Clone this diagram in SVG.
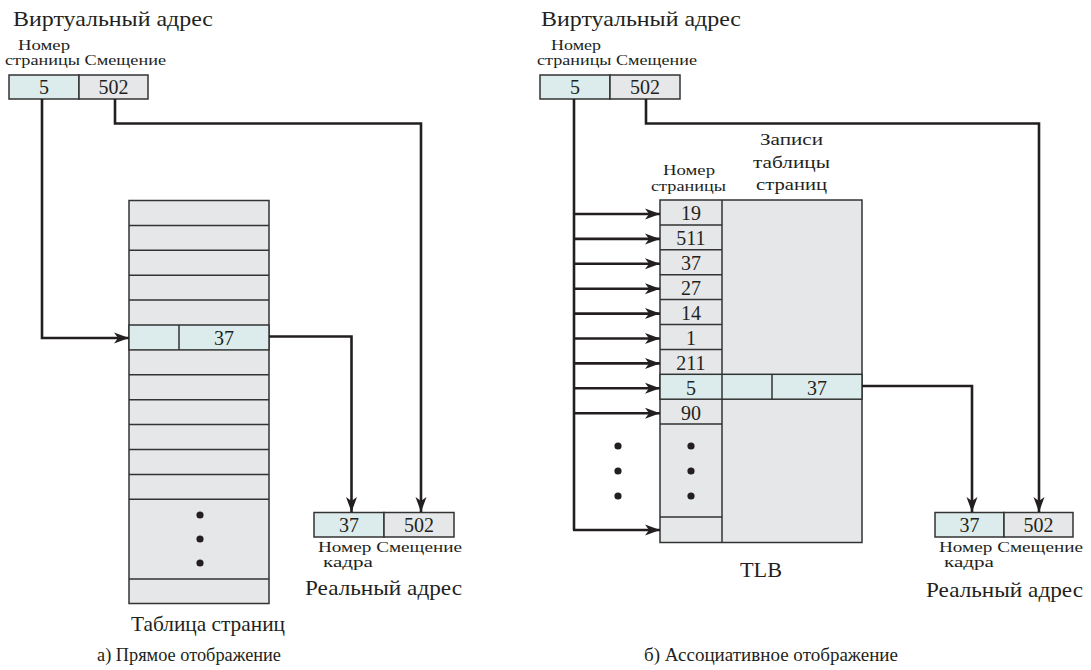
<svg xmlns="http://www.w3.org/2000/svg" width="1091" height="670" viewBox="0 0 1091 670" font-family="'Liberation Serif', 'DejaVu Serif', serif">
<style>
text{font-family:"Liberation Serif","DejaVu Serif",serif;fill:#231f20}
.t{font-size:21px}
.cap{font-size:18px}
.s{font-size:15.5px}
.n{font-size:20px;text-anchor:middle}
.c{text-anchor:middle}
.g{fill:#e6e7e8;stroke:#333;stroke-width:1.5}
.h{fill:#dcecec;stroke:#333;stroke-width:1.5}
.ln{fill:none;stroke:#333;stroke-width:1.5}
.con{fill:none;stroke:#231f20;stroke-width:2.6}
.arr{marker-end:url(#ah)}
</style>
<defs>
<marker id="ah" markerUnits="userSpaceOnUse" markerWidth="18" markerHeight="14" viewBox="-16 -7 18 14" refX="0" refY="0" orient="auto">
<path d="M0,0 L-15,-5.5 L-11,0 L-15,5.5 Z" fill="#231f20"/>
</marker>
</defs>

<!-- LEFT PANEL -->
<g id="va-left">
<text class="t" x="13" y="26" textLength="200" lengthAdjust="spacingAndGlyphs">Виртуальный адрес</text>
<text class="s" x="18" y="50" textLength="52" lengthAdjust="spacingAndGlyphs">Номер</text>
<text class="s" x="5" y="65" textLength="161" lengthAdjust="spacingAndGlyphs">страницы Смещение</text>
<rect class="h" x="9" y="75" width="70" height="24"/>
<rect class="g" x="79" y="75" width="69" height="24"/>
<text class="n" x="44" y="94">5</text>
<text class="n" x="113.5" y="94">502</text>
</g>

<g id="page-table">
<rect class="g" x="129" y="200.5" width="140" height="403"/>
<path class="ln" d="M129,225.4H269M129,250.3H269M129,275.2H269M129,300.1H269M129,374.8H269M129,399.7H269M129,424.6H269M129,449.5H269M129,474.4H269M129,499.3H269M129,579H269"/>
<rect class="h" x="129" y="325" width="140" height="24.9"/>
<line class="ln" x1="179" y1="325" x2="179" y2="349.9"/>
<text class="n" x="224" y="345">37</text>
<circle cx="200" cy="515" r="3.6" fill="#231f20"/>
<circle cx="200" cy="539" r="3.6" fill="#231f20"/>
<circle cx="200" cy="563" r="3.6" fill="#231f20"/>
<text class="t" x="131" y="631" textLength="154" lengthAdjust="spacingAndGlyphs">Таблица страниц</text>
</g>

<g id="ra-left">
<rect class="h" x="314" y="512.5" width="70" height="24.5"/>
<rect class="g" x="384" y="512.5" width="70" height="24.5"/>
<text class="n" x="349" y="532">37</text>
<text class="n" x="419" y="532">502</text>
<text class="s" x="318" y="552" textLength="144" lengthAdjust="spacingAndGlyphs" style="font-size:15px">Номер Смещение</text>
<text class="s" x="323" y="567" textLength="50" lengthAdjust="spacingAndGlyphs" style="font-size:15px">кадра</text>
<text class="t" x="305" y="595" textLength="157" lengthAdjust="spacingAndGlyphs">Реальный адрес</text>
</g>

<text id="cap-a" class="cap" x="97" y="661" textLength="184" lengthAdjust="spacingAndGlyphs">а) Прямое отображение</text>

<!-- RIGHT PANEL -->
<g id="va-right">
<text class="t" x="541" y="26" textLength="200" lengthAdjust="spacingAndGlyphs">Виртуальный адрес</text>
<text class="s" x="551" y="50" textLength="50" lengthAdjust="spacingAndGlyphs">Номер</text>
<text class="s" x="537" y="65" textLength="160" lengthAdjust="spacingAndGlyphs">страницы Смещение</text>
<rect class="h" x="540" y="75" width="70" height="24"/>
<rect class="g" x="610" y="75" width="70" height="24"/>
<text class="n" x="575" y="94">5</text>
<text class="n" x="645" y="94">502</text>
</g>

<g id="tlb">
<text class="s" x="663" y="175" textLength="52" lengthAdjust="spacingAndGlyphs">Номер</text>
<text class="s" x="651" y="191" textLength="75" lengthAdjust="spacingAndGlyphs">страницы</text>
<text class="s" x="760" y="145" textLength="63" lengthAdjust="spacingAndGlyphs" style="font-size:17px">Записи</text>
<text class="s" x="753" y="168" textLength="77" lengthAdjust="spacingAndGlyphs" style="font-size:17px">таблицы</text>
<text class="s" x="756" y="190" textLength="71" lengthAdjust="spacingAndGlyphs" style="font-size:17px">страниц</text>
<rect class="g" x="660" y="200" width="202" height="342.5"/>
<line class="ln" x1="722" y1="200" x2="722" y2="542.5"/>
<path class="ln" d="M660,224.9H722M660,249.8H722M660,274.7H722M660,299.6H722M660,324.5H722M660,349.4H722M660,424.1H722M660,517H722"/>
<rect class="h" x="660" y="374.3" width="202" height="24.9"/>
<line class="ln" x1="722" y1="374.3" x2="722" y2="399.2"/>
<line class="ln" x1="772" y1="374.3" x2="772" y2="399.2"/>
<text class="n" x="691" y="220">19</text>
<text class="n" x="691" y="245">511</text>
<text class="n" x="691" y="270">37</text>
<text class="n" x="691" y="295">27</text>
<text class="n" x="691" y="320">14</text>
<text class="n" x="691" y="344.5">1</text>
<text class="n" x="691" y="369.5">211</text>
<text class="n" x="691" y="394.5">5</text>
<text class="n" x="817" y="394.5">37</text>
<text class="n" x="691" y="419.5">90</text>
<circle cx="691" cy="446" r="3.6" fill="#231f20"/>
<circle cx="691" cy="471" r="3.6" fill="#231f20"/>
<circle cx="691" cy="496" r="3.6" fill="#231f20"/>
<text class="t" x="740" y="577" textLength="42" lengthAdjust="spacingAndGlyphs">TLB</text>
</g>
<g id="dots-right">
<circle cx="618" cy="446" r="3.6" fill="#231f20"/>
<circle cx="618" cy="471" r="3.6" fill="#231f20"/>
<circle cx="618" cy="496" r="3.6" fill="#231f20"/>
</g>

<g id="ra-right">
<rect class="h" x="935" y="512.5" width="69" height="24.5"/>
<rect class="g" x="1004" y="512.5" width="69" height="24.5"/>
<text class="n" x="969.5" y="532">37</text>
<text class="n" x="1038.5" y="532">502</text>
<text class="s" x="939" y="552" textLength="144" lengthAdjust="spacingAndGlyphs" style="font-size:15px">Номер Смещение</text>
<text class="s" x="944" y="567" textLength="50" lengthAdjust="spacingAndGlyphs" style="font-size:15px">кадра</text>
<text class="t" x="926" y="597" textLength="157" lengthAdjust="spacingAndGlyphs">Реальный адрес</text>
</g>

<text id="cap-b" class="cap" x="644" y="661" textLength="254" lengthAdjust="spacingAndGlyphs">б) Ассоциативное отображение</text>

<g id="connectors">
<path class="con arr" d="M42,99V338H129"/>
<path class="con arr" d="M115,99V123.5H421V512"/>
<path class="con arr" d="M269,336.5H351.5V512"/>
<path class="con" d="M574,99V530"/>
<path class="con arr" d="M574,214H660"/>
<path class="con arr" d="M574,238.9H660"/>
<path class="con arr" d="M574,263.8H660"/>
<path class="con arr" d="M574,288.7H660"/>
<path class="con arr" d="M574,313.6H660"/>
<path class="con arr" d="M574,338.5H660"/>
<path class="con arr" d="M574,363.4H660"/>
<path class="con arr" d="M574,388.3H660"/>
<path class="con arr" d="M574,413.2H660"/>
<path class="con arr" d="M573,530H660"/>
<path class="con arr" d="M646,99V123.5H1039V512"/>
<path class="con arr" d="M862,386H972V512"/>
</g>
</svg>
